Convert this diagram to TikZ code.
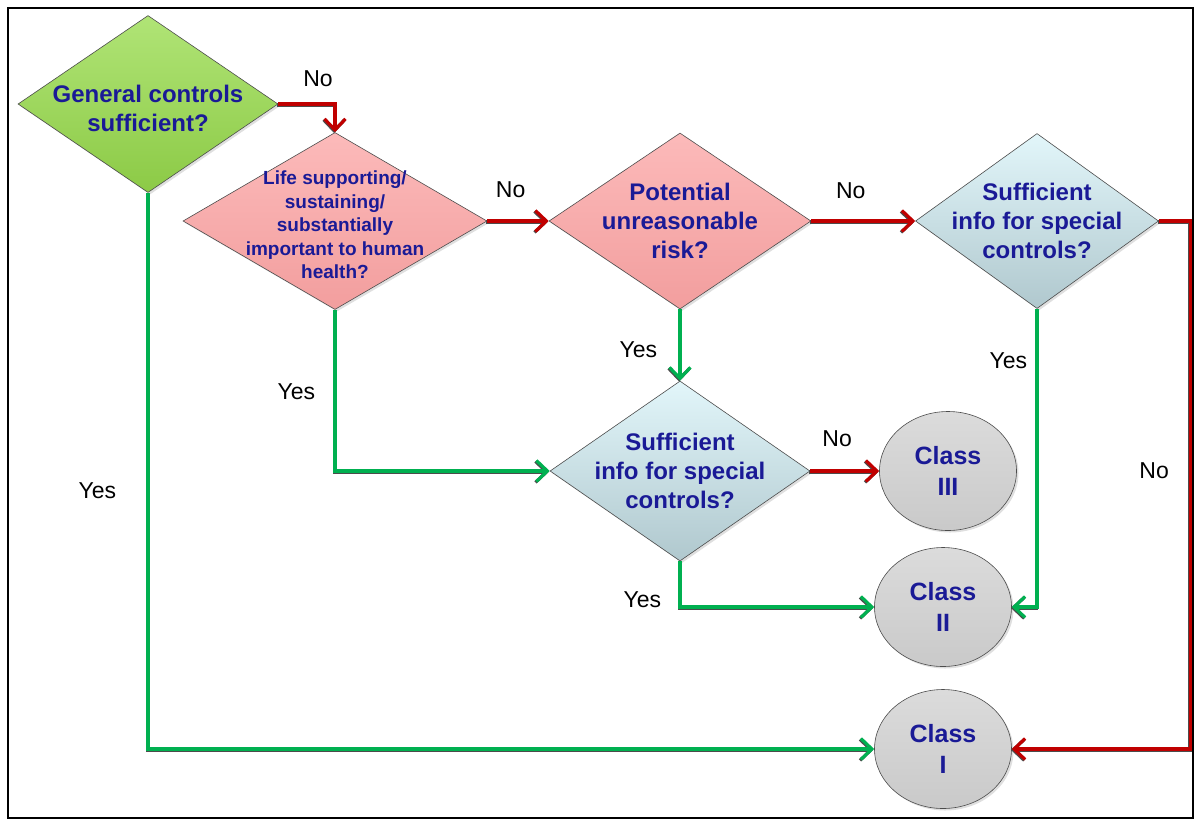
\documentclass[tikz,border=0pt]{standalone}
\usepackage{fontspec}
\setmainfont{Liberation Sans}
\usetikzlibrary{arrows.meta,shapes.geometric,shadows}

\definecolor{qnavy}{RGB}{26,26,150}
\definecolor{nored}{RGB}{192,0,0}
\definecolor{yesgreen}{RGB}{0,176,80}

\begin{document}
\begin{tikzpicture}[x=1pt,y=-1pt,->,>={Straight Barb[length=11pt,width=21pt]},line width=3.2pt,
  question/.style={diamond,draw=black!70,line width=0.6pt,inner sep=0pt,drop shadow={opacity=0.25,shadow xshift=2pt,shadow yshift=-2pt}},
  qtext/.style={font=\bfseries\fontsize{24}{29}\selectfont,text=qnavy,align=center},
  small qtext/.style={font=\bfseries\fontsize{19}{23.5}\selectfont,text=qnavy,align=center},
  class node/.style={ellipse,draw=black!70,line width=0.6pt,inner sep=0pt,minimum width=137pt,minimum height=119pt,top color=gray!28,bottom color=gray!42,drop shadow={opacity=0.25,shadow xshift=2pt,shadow yshift=-2pt},font=\bfseries\fontsize{25}{31}\selectfont,text=qnavy,align=center},
  line shadow/.style={preaction={draw=black!70,transform canvas={xshift=-0.9pt,yshift=-0.9pt}}},
  no line/.style={color=nored,line shadow},
  yes line/.style={color=yesgreen,line shadow},
  lbl/.style={font=\fontsize{23}{27}\selectfont,text=black}]
  \useasboundingbox (0,0) rectangle (1196,820);
  \draw[-,line width=2pt,black] (8,8) rectangle (1193,818);

  \node[question,minimum width=260pt,minimum height=177pt,top color={rgb,255:red,176;green,228;blue,118},bottom color={rgb,255:red,140;green,202;blue,70},label={[qtext,yshift=-4pt]center:{General controls\\sufficient?}}] (1) at (148,104) {};
  \node[question,minimum width=304pt,minimum height=177pt,top color={rgb,255:red,252;green,186;blue,186},bottom color={rgb,255:red,242;green,158;blue,158},label={[small qtext,yshift=-4pt]center:{Life supporting/\\sustaining/\\substantially\\important to human\\health?}}] (2) at (335,221) {};
  \node[question,minimum width=262pt,minimum height=176pt,top color={rgb,255:red,252;green,186;blue,186},bottom color={rgb,255:red,242;green,158;blue,158},label={[qtext]center:{Potential\\unreasonable\\risk?}}] (3) at (680,221) {};
  \node[question,minimum width=243pt,minimum height=175pt,top color={rgb,255:red,226;green,246;blue,250},bottom color={rgb,255:red,176;green,200;blue,206},label={[qtext]center:{Sufficient\\info for special\\controls?}}] (4) at (1037,221) {};
  \node[question,minimum width=260pt,minimum height=180pt,top color={rgb,255:red,226;green,246;blue,250},bottom color={rgb,255:red,176;green,200;blue,206},label={[qtext]center:{Sufficient\\info for special\\controls?}}] (5) at (680,471) {};
  \node[class node] (7) at (948,471) {Class\\III};
  \node[class node] (6) at (943,607) {Class\\II};
  \node[class node] (8) at (943,749) {Class\\I};

  \draw[no line] (1.east) -| node[pos=0.35,above=12pt,lbl] {No} (2.north);
  \draw[no line] (2.east) -- node[pos=0.38,above=18pt,lbl] {No} (3.west);
  \draw[no line] (3.east) -- node[pos=0.38,above=17pt,lbl] {No} (4.west);
  \draw[no line] (4.east) -- ++(32,0) |- node[pos=0.236,left=17pt,lbl] {No} (8.east);
  \draw[no line] (5.east) -- node[pos=0.39,above=19pt,lbl] {No} (7.west);
  \draw[yes line] (3.south) -- node[pos=0.57,left=18pt,lbl] {Yes} (5.north);
  \draw[yes line] (2.south) |- node[pos=0.253,left=15pt,lbl] {Yes} (5.west);
  \draw[yes line] (5.south) |- node[pos=0.42,left=14pt,lbl] {Yes} (6.west);
  \draw[yes line] (4.south) |- node[pos=0.087,left=5pt,lbl] {Yes} (6.east);
  \draw[yes line] (1.south) |- node[pos=0.268,left=27pt,lbl] {Yes} (8.west);
\end{tikzpicture}
\end{document}
